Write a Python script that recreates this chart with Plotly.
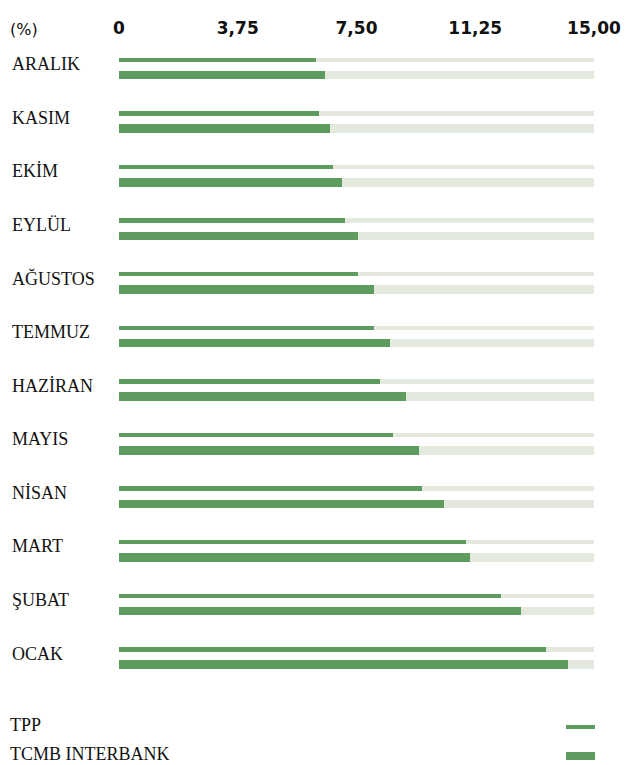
import plotly.graph_objects as go

months = ["ARALIK", "KASIM", "EKİM", "EYLÜL", "AĞUSTOS", "TEMMUZ",
          "HAZİRAN", "MAYIS", "NİSAN", "MART", "ŞUBAT", "OCAK"]
tpp = [6.22, 6.32, 6.75, 7.14, 7.55, 8.05, 8.25, 8.65, 9.57, 10.97, 12.07, 13.48]
tcmb = [6.52, 6.65, 7.05, 7.55, 8.05, 8.56, 9.06, 9.46, 10.26, 11.07, 12.68, 14.19]
tick_vals = [0, 3.75, 7.5, 11.25, 15]
tick_text = ["0", "3,75", "7,50", "11,25", "15,00"]
x_max = 15
series_names = ["TPP", "TCMB INTERBANK"]

GREEN = "#5e9b5f"
LIGHT = "#e3e9dc"
SERIF = "Liberation Serif"
SANS = "DejaVu Sans"

# page body has an 8px margin; work in reference pixel space and shift
OFF = 8
W, H = 630 - 2 * OFF, 765 - OFF
plot_left, plot_right, plot_top, plot_bottom = 119, 594, 45, 675
ml, mr = plot_left - OFF, W - (plot_right - OFF)
mt, mb = plot_top - OFF, H - (plot_bottom - OFF)
pw = plot_right - plot_left
ph = plot_bottom - plot_top
pitch = 53.6

def px_x(p):
    return (p - plot_left) / pw

def px_y(p):
    return 1 - (p - plot_top) / ph

idx = list(range(len(months)))
y_tpp = [i + (59.8 - plot_top) / pitch for i in idx]
y_tcmb = [i + (75.0 - plot_top) / pitch for i in idx]
y_lab = [i + (64.0 - plot_top) / pitch for i in idx]
w_tpp, w_tcmb = 4.3 / pitch, 8.6 / pitch

fig = go.Figure()
for ys, w in ((y_tpp, w_tpp), (y_tcmb, w_tcmb)):
    fig.add_trace(go.Bar(y=ys, x=[x_max] * len(ys), base=0, orientation="h",
                         width=w, marker=dict(color=LIGHT, line=dict(width=0)),
                         showlegend=False, hoverinfo="skip"))
fig.add_trace(go.Bar(y=y_tpp, x=tpp, base=0, orientation="h", width=w_tpp,
                     name=series_names[0], marker=dict(color=GREEN, line=dict(width=0)),
                     showlegend=False))
fig.add_trace(go.Bar(y=y_tcmb, x=tcmb, base=0, orientation="h", width=w_tcmb,
                     name=series_names[1], marker=dict(color=GREEN, line=dict(width=0)),
                     showlegend=False))

annotations = []
for m, yy in zip(months, y_lab):
    annotations.append(dict(text=m, x=px_x(10), xref="paper", xanchor="left",
                            y=yy, yref="y", yanchor="middle", showarrow=False,
                            font=dict(family=SERIF, size=18, color="#111")))
annotations.append(dict(text="(%)", x=px_x(8), xref="paper", xanchor="left",
                        y=px_y(29.5), yref="paper", yanchor="middle", showarrow=False,
                        font=dict(family=SANS, size=16, color="#111")))
shapes = []
leg_y = [724.5, 753.5]
sw_y = [727, 756]
sw_h = [4, 8]
for name, yy, sy, hh in zip(series_names, leg_y, sw_y, sw_h):
    annotations.append(dict(text=name, x=px_x(8), xref="paper", xanchor="left",
                            y=px_y(yy), yref="paper", yanchor="middle", showarrow=False,
                            font=dict(family=SERIF, size=18, color="#111")))
    shapes.append(dict(type="rect", xref="paper", yref="paper",
                       x0=px_x(566), x1=px_x(595), y0=px_y(sy - hh / 2), y1=px_y(sy + hh / 2),
                       fillcolor=GREEN, line=dict(width=0)))

fig.update_layout(
    width=W, height=H,
    margin=dict(l=ml, r=mr, t=mt, b=mb, autoexpand=False),
    paper_bgcolor="white", plot_bgcolor="white",
    barmode="overlay", bargap=0,
    xaxis=dict(side="top", range=[0, x_max], tickvals=tick_vals, ticktext=tick_text,
               showgrid=False, zeroline=False, showline=False, ticks="",
               ticklabelstandoff=7, automargin=False,
               tickfont=dict(family=SANS, size=17, color="#111", weight="bold")),
    yaxis=dict(range=[ph / pitch, 0], showgrid=False, zeroline=False, automargin=False,
               showline=False, showticklabels=False, ticks=""),
    annotations=annotations, shapes=shapes,
    showlegend=False,
)
fig.write_html("out.html")
